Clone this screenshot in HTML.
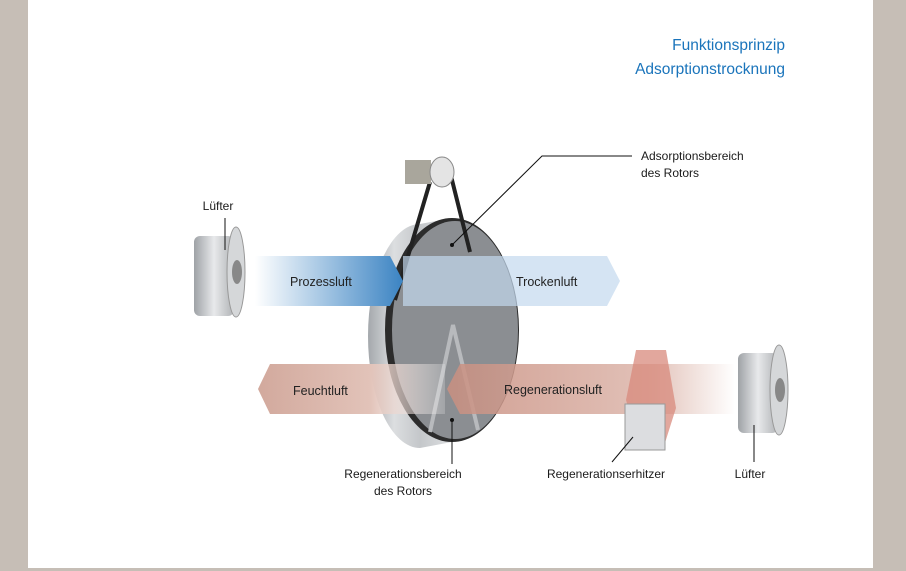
<!DOCTYPE html>
<html><head><meta charset="utf-8"><style>
body{margin:0;width:906px;height:571px;background:#c6beb6;overflow:hidden}
svg{display:block}
text{font-family:"Liberation Sans",sans-serif}
</style></head><body>
<svg width="906" height="571" viewBox="0 0 906 571">
<defs>
<linearGradient id="pb" x1="255" x2="400" y1="0" y2="0" gradientUnits="userSpaceOnUse"><stop offset="0" stop-color="#fff"/><stop offset="1" stop-color="#3f86c4"/></linearGradient>
<linearGradient id="fr" x1="258" x2="445" y1="0" y2="0" gradientUnits="userSpaceOnUse"><stop offset="0" stop-color="#d2a99d"/><stop offset="0.6" stop-color="#e2c3b9"/><stop offset="1" stop-color="#fff" stop-opacity="0.2"/></linearGradient>
<linearGradient id="rr" x1="447" x2="735" y1="0" y2="0" gradientUnits="userSpaceOnUse"><stop offset="0" stop-color="#c98f80"/><stop offset="0.7" stop-color="#dcb5aa"/><stop offset="1" stop-color="#fff"/></linearGradient>
<linearGradient id="cyl" x1="368" x2="455" y1="0" y2="0" gradientUnits="userSpaceOnUse"><stop offset="0" stop-color="#a4a8ac"/><stop offset="0.3" stop-color="#dcdee0"/><stop offset="0.6" stop-color="#c4c7ca"/><stop offset="1" stop-color="#e0e2e4"/></linearGradient>
<linearGradient id="fan" x1="0" x2="1" y1="0" y2="0"><stop offset="0" stop-color="#9ea2a6"/><stop offset="0.5" stop-color="#e8e9eb"/><stop offset="1" stop-color="#b0b3b6"/></linearGradient>
</defs>
<rect x="28" y="0" width="845" height="568" fill="#fff"/>
<text x="785" y="50" font-size="15.5" fill="#1a74bb" text-anchor="end">Funktionsprinzip</text>
<text x="785" y="74" font-size="15.5" fill="#1a74bb" text-anchor="end">Adsorptionstrocknung</text>
<!-- rotor cylinder -->
<path d="M420 224 L452 218 L452 442 L420 448 A52 112 0 0 1 420 224 Z" fill="url(#cyl)"/>
<ellipse cx="452" cy="330" rx="67" ry="112" fill="#2c2c2c"/>
<ellipse cx="455" cy="330" rx="63" ry="109" fill="#8b8e92"/>
<path d="M430 432 L453 325 L478 430" fill="none" stroke="#b8babd" stroke-width="4"/>
<!-- belt & motor -->
<path d="M430 182 L395 300 M450 172 L470 252" stroke="#222" stroke-width="4" fill="none"/>
<rect x="405" y="160" width="26" height="24" fill="#a9a69c"/>
<ellipse cx="442" cy="172" rx="12" ry="15" fill="#e4e4e4" stroke="#888"/>
<!-- arrows -->
<path d="M255 256 H390 L403 281 L390 306 H255 Z" fill="url(#pb)"/>
<path d="M403 256 H607 L620 281 L607 306 H403 Z" fill="#c3d8ee" opacity="0.7"/>
<path d="M258 389 L270 364 H445 V414 H270 Z" fill="url(#fr)"/>
<path d="M447 389 L460 364 H735 V414 H460 Z" fill="url(#rr)" opacity="0.85"/>
<!-- fans -->
<g><rect x="194" y="236" width="40" height="80" rx="6" fill="url(#fan)"/><ellipse cx="236" cy="272" rx="9" ry="45" fill="#d5d7d9" stroke="#999"/><ellipse cx="237" cy="272" rx="5" ry="12" fill="#888"/></g>
<g><rect x="738" y="353" width="40" height="80" rx="6" fill="url(#fan)"/><ellipse cx="779" cy="390" rx="9" ry="45" fill="#d5d7d9" stroke="#999"/><ellipse cx="780" cy="390" rx="5" ry="12" fill="#888"/></g>
<!-- heater -->
<path d="M636 350 H666 L676 408 L664 446 H640 L626 400 Z" fill="#d88a7c" opacity="0.75"/>
<rect x="625" y="404" width="40" height="46" fill="#dcdde0" stroke="#999"/>
<!-- text -->
<g font-size="12.5" fill="#222">
<text x="290" y="286">Prozessluft</text>
<text x="516" y="286">Trockenluft</text>
<text x="293" y="395">Feuchtluft</text>
<text x="504" y="394">Regenerationsluft</text>
</g>
<g font-size="12" fill="#1a1a1a">
<text x="218" y="210" text-anchor="middle">Lüfter</text>
<text x="641" y="160">Adsorptionsbereich</text>
<text x="641" y="177">des Rotors</text>
<text x="403" y="478" text-anchor="middle">Regenerationsbereich</text>
<text x="403" y="495" text-anchor="middle">des Rotors</text>
<text x="606" y="478" text-anchor="middle">Regenerationserhitzer</text>
<text x="750" y="478" text-anchor="middle">Lüfter</text>
</g>
<g stroke="#111" stroke-width="1" fill="none">
<path d="M225 218 V250"/><path d="M452 245 L542 156 H632"/><path d="M452 420 V464"/>
<path d="M633 437 L612 462"/><path d="M754 425 V462"/>
</g>
<circle cx="452" cy="245" r="2" fill="#111"/><circle cx="452" cy="420" r="2" fill="#111"/>
</svg>
</body></html>
